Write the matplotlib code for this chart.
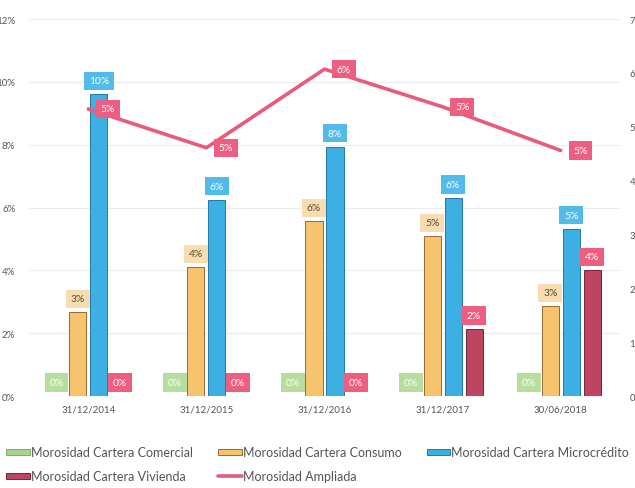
import matplotlib
matplotlib.use("Agg")
import matplotlib.pyplot as plt
import numpy as np

plt.rcParams['font.family'] = ['Lato', 'DejaVu Sans']

fechas = ["31/12/2014", "31/12/2015", "31/12/2016", "31/12/2017", "30/06/2018"]
comercial = [0.0, 0.0, 0.0, 0.0, 0.0]
consumo = [2.67, 4.10, 5.56, 5.08, 2.86]
microcredito = [9.60, 6.25, 7.94, 6.30, 5.33]
vivienda = [0.0, 0.0, 0.0, 2.13, 4.00]
ampliada = [5.33, 4.61, 6.07, 5.37, 4.56]

left_ticks = [0, 2, 4, 6, 8, 10, 12]
right_ticks = [0, 1, 2, 3, 4, 5, 6, 7]

series = [
    ("Morosidad Cartera Comercial", comercial, "#a9d28f", "#7fae63", "#b7de9f", "white"),
    ("Morosidad Cartera Consumo", consumo, "#f6c46e", "#9a6a2a", "#f8dcb2", "#5b4a33"),
    ("Morosidad Cartera Microcrédito", microcredito, "#3cb0e2", "#2478a8", "#52bbea", "white"),
    ("Morosidad Cartera Vivienda", vivienda, "#bd4561", "#7a2238", "#ee5e7e", "white"),
]
line_color = "#e95a7c"

fig = plt.figure(figsize=(6.35, 4.89), dpi=100)
ax = fig.add_axes([0.046, 0.188, 0.93, 0.771])
ax2 = ax.twinx()

x = np.arange(len(fechas))
width = 0.145
step = 0.178
handles = {}
for i, (name, vals, col, edge, lab_bg, lab_fg) in enumerate(series):
    off = (i - 1.5) * step
    bars = ax.bar(x + off, vals, width, color=col, edgecolor=edge, linewidth=0.7,
                  label=name, zorder=2)
    handles[name] = bars
    for xi, v in zip(x + off, vals):
        ax.annotate(f"{round(v):.0f}%", (xi, v), xytext=(0, 6.5), textcoords="offset points",
                    ha="center", va="bottom", fontsize=7.4, color=lab_fg, zorder=5,
                    bbox=dict(boxstyle="square,pad=0.45", fc=lab_bg, ec="none"))

ln, = ax2.plot(x, ampliada, color=line_color, lw=2.6, solid_capstyle="round",
               label="Morosidad Ampliada", zorder=3)
for xi, v in zip(x, ampliada):
    ax2.annotate(f"{round(v):.0f}%", (xi, v), xytext=(9, 0), textcoords="offset points",
                 ha="left", va="center", fontsize=7.4, color="white", zorder=6,
                 bbox=dict(boxstyle="square,pad=0.45", fc="#ec5f80", ec="none"))

ax.set_xlim(-0.5, len(fechas) - 0.5)
ax.set_ylim(0, 12)
ax2.set_ylim(0, 7)
ax.set_yticks(left_ticks)
ax.set_yticklabels([f"{t}%" for t in left_ticks])
ax2.set_yticks(right_ticks)
ax2.set_yticklabels([f"{t}%" for t in right_ticks])
ax.set_xticks(x)
ax.set_xticklabels(fechas)
ax.grid(axis="y", color="#ececec", lw=0.8, zorder=0)
ax.set_axisbelow(True)
for a in (ax, ax2):
    for s in a.spines.values():
        s.set_visible(False)
    a.tick_params(length=0, labelsize=7, colors="#555555")
ax.tick_params(axis="x", pad=6)
ax.tick_params(axis="y", pad=10)
ax2.tick_params(axis="y", pad=7)

order = ["Morosidad Cartera Comercial", "Morosidad Cartera Vivienda",
         "Morosidad Cartera Consumo", None, "Morosidad Cartera Microcrédito"]
hs = [handles[n] if n else ln for n in order]
ls = [n if n else "Morosidad Ampliada" for n in order]
fig.legend(hs, ls, loc="lower left", bbox_to_anchor=(0.01, 0.012), ncol=3,
           frameon=False, fontsize=9, handlelength=1.9, handleheight=0.4,
           handletextpad=0.08, columnspacing=2.0, labelspacing=0.95,
           borderpad=0, borderaxespad=0, labelcolor="#555555")

fig.savefig("out.png", dpi=100)
